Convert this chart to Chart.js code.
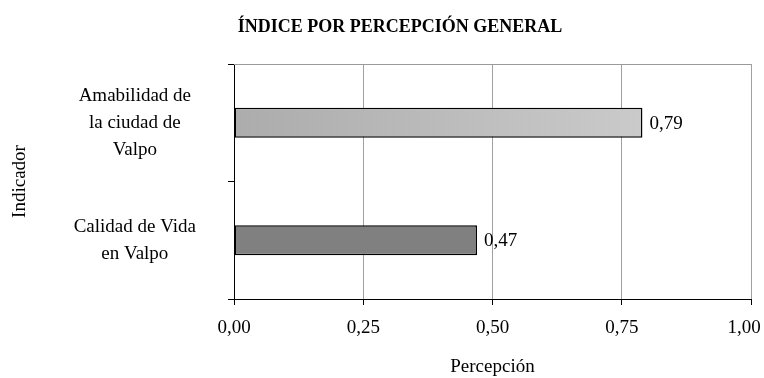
<!DOCTYPE html>
<html>
<head>
<meta charset="utf-8">
<script src="https://cdn.jsdelivr.net/npm/chart.js@4"></script>
<style>
  html, body { margin: 0; padding: 0; background: #ffffff; }
  #wrap { width: 764px; height: 378px; }
</style>
</head>
<body>
<div id="wrap"><canvas id="chart1"></canvas></div>
<script>
// datos del grafico
const titulo = 'ÍNDICE POR PERCEPCIÓN GENERAL';
const categorias = [['Amabilidad de', 'la ciudad de', 'Valpo'], ['Calidad de Vida', 'en Valpo']];
const valores = [0.79, 0.47];
const ticksX = [0, 0.25, 0.5, 0.75, 1];
const tituloX = 'Percepción';
const tituloY = 'Indicador';

const fuente = "'Liberation Serif', 'Times New Roman', serif";
const coma = v => v.toFixed(2).replace('.', ',');

// borde gris arriba del area de grafico
const bordeArriba = {
    id: 'bordeArriba',
    beforeDatasetsDraw(chart) {
        const a = chart.chartArea, ctx = chart.ctx;
        ctx.save();
        ctx.strokeStyle = '#9a9a9a';
        ctx.lineWidth = 1;
        ctx.beginPath();
        ctx.moveTo(a.left, a.top + 0.5);
        ctx.lineTo(a.right, a.top + 0.5);
        ctx.stroke();
        ctx.restore();
    }
};

// etiquetas de valor al final de cada barra
const etiquetas = {
    id: 'etiquetas',
    afterDatasetsDraw(chart) {
        const ctx = chart.ctx;
        const meta = chart.getDatasetMeta(0);
        ctx.save();
        ctx.font = '19px ' + fuente;
        ctx.fillStyle = '#000';
        ctx.textBaseline = 'middle';
        ctx.textAlign = 'left';
        meta.data.forEach((bar, i) => {
            ctx.fillText(coma(valores[i]), bar.x + 7, bar.y + 1);
        });
        ctx.restore();
    }
};

// titulo un poco a la derecha y ultima etiqueta del eje x metida dentro
const ajustes = {
    id: 'ajustes',
    afterLayout(chart) {
        const t = chart.titleBlock;
        if (t) {
            const dx = 400 - (t.left + t.right) / 2;
            t.left += dx;
            t.right += dx;
        }
    },
    beforeDraw(chart) {
        const sx = chart.scales.x;
        const items = sx.getLabelItems(chart.chartArea);
        const ultimo = items[items.length - 1];
        if (ultimo) {
            ultimo.options.translation[0] = sx.getPixelForTick(items.length - 1) - 7;
        }
    }
};

function colorBarra(context) {
    if (context.dataIndex === 1) return '#808080';
    const chart = context.chart;
    const a = chart.chartArea;
    if (!a) return '#c0c0c0';
    const g = chart.ctx.createLinearGradient(a.left, 0, a.right, 0);
    g.addColorStop(0, '#acacac');
    g.addColorStop(0.5, '#bfbfbf');
    g.addColorStop(1, '#d2d2d2');
    return g;
}

const ctx1 = document.getElementById('chart1').getContext('2d');
new Chart(ctx1, {
    type: 'bar',
    data: {
        labels: categorias,
        datasets: [
            {
                data: valores,
                backgroundColor: colorBarra,
                borderColor: '#000000',
                borderWidth: 1.5,
                borderSkipped: false,
                categoryPercentage: 1,
                barPercentage: 0.255
            }
        ]
    },
    plugins: [bordeArriba, etiquetas, ajustes],
    options: {
        indexAxis: 'y',
        responsive: true,
        maintainAspectRatio: false,
        animation: false,
        layout: { padding: { left: 0, right: 13, top: 0, bottom: 0 } },
        plugins: {
            legend: { display: false },
            tooltip: { enabled: false },
            title: {
                display: true,
                text: titulo,
                color: '#000',
                font: { family: fuente, size: 18, weight: 'bold' },
                padding: { top: 17, bottom: 25.4 }
            }
        },
        scales: {
            x: {
                min: ticksX[0],
                max: ticksX[ticksX.length - 1],
                afterBuildTicks: scale => { scale.ticks = ticksX.map(v => ({ value: v })); },
                afterFit: scale => {
                    scale.paddingLeft = 0;
                    scale.paddingRight = 0;
                    scale.height = 79;
                },
                border: { color: '#000', width: 1 },
                grid: { color: '#a0a0a0', lineWidth: 1, tickColor: '#000', tickLength: 6 },
                ticks: {
                    color: '#000',
                    padding: 12,
                    font: { family: fuente, size: 19 },
                    callback: v => coma(v)
                },
                title: {
                    display: true,
                    text: tituloX,
                    color: '#000',
                    font: { family: fuente, size: 19 },
                    padding: { top: 0, bottom: 0 }
                }
            },
            y: {
                afterFit: scale => {
                    scale.paddingTop = 0;
                    scale.paddingBottom = 0;
                    scale.width = 234;
                },
                border: { color: '#000', width: 1 },
                grid: { drawOnChartArea: false, tickColor: '#000', tickLength: 6, offset: true },
                ticks: {
                    color: '#000',
                    padding: 32,
                    crossAlign: 'center',
                    font: { family: fuente, size: 19, lineHeight: 1.42 }
                },
                title: {
                    display: true,
                    text: tituloY,
                    color: '#000',
                    font: { family: fuente, size: 19 },
                    padding: { top: 9, bottom: 0 }
                }
            }
        }
    }
});
</script>
</body>
</html>
